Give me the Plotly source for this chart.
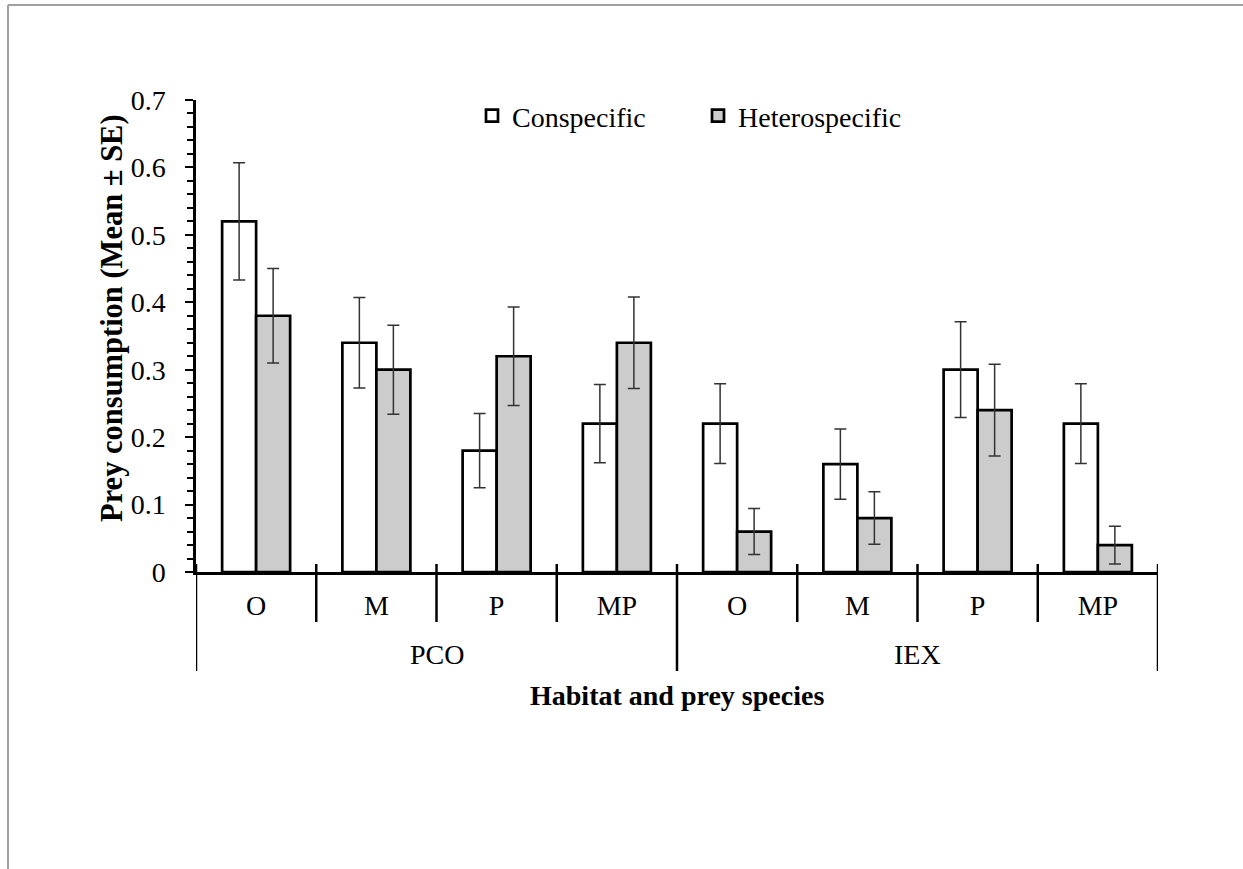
import plotly.graph_objects as go

# ---- data ----
habitats = ["PCO", "IEX"]
prey = ["O", "M", "P", "MP"]
series_names = ["Conspecific", "Heterospecific"]
conspecific = [0.52, 0.34, 0.18, 0.22, 0.22, 0.16, 0.30, 0.22]
conspecific_se = [0.087, 0.067, 0.055, 0.058, 0.059, 0.052, 0.071, 0.059]
heterospecific = [0.38, 0.30, 0.32, 0.34, 0.06, 0.08, 0.24, 0.04]
heterospecific_se = [0.070, 0.066, 0.073, 0.068, 0.034, 0.039, 0.068, 0.028]
y_ticks = [0, 0.1, 0.2, 0.3, 0.4, 0.5, 0.6, 0.7]

# ---- layout constants (pixels) ----
W, H = 1243, 869
L, R, T, B = 196, 85, 100, 297
PW, PH = W - L - R, H - T - B
FONT = "Liberation Serif, Times New Roman, serif"
FS = 28

def px_x(px):
    return (px - L) / PW

def px_y(py):
    return (H - B - py) / PH

labels = [p for _ in habitats for p in prey]
xpos = list(range(len(labels)))

fig = go.Figure()
fig.add_trace(go.Bar(
    name=series_names[0], x=xpos, y=conspecific,
    marker=dict(color="white", line=dict(color="black", width=2.7)),
    error_y=dict(type="data", array=conspecific_se, visible=True,
                 color="#333333", thickness=1.5, width=6),
))
fig.add_trace(go.Bar(
    name=series_names[1], x=xpos, y=heterospecific,
    marker=dict(color="#cccccc", line=dict(color="black", width=2.7)),
    error_y=dict(type="data", array=heterospecific_se, visible=True,
                 color="#333333", thickness=1.5, width=6),
))

shapes = []
# category boundary lines
n = len(labels)
for i in range(n + 1):
    xb = i - 0.5
    outer = (i % len(prey) == 0)
    shapes.append(dict(type="line", xref="x", yref="paper",
                       x0=xb, x1=xb, y0=px_y(564),
                       y1=px_y(671 if outer else 622),
                       line=dict(color="black", width=2.5)))
# page frame lines (gray)
shapes.append(dict(type="line", xref="paper", yref="paper",
                   x0=px_x(8), x1=px_x(1243), y0=px_y(5), y1=px_y(5),
                   line=dict(color="#a0a0a0", width=2)))
shapes.append(dict(type="line", xref="paper", yref="paper",
                   x0=px_x(8), x1=px_x(8), y0=px_y(5), y1=px_y(869),
                   line=dict(color="#a0a0a0", width=2)))

annotations = []
for gi, hname in enumerate(habitats):
    xc = gi * len(prey) + (len(prey) - 1) / 2
    annotations.append(dict(text=hname, x=xc, xref="x", y=px_y(654), yref="paper",
                            showarrow=False, xanchor="center", yanchor="middle",
                            font=dict(family=FONT, size=FS, color="black")))
annotations.append(dict(text="<b>Habitat and prey species</b>", x=0.5, xref="paper",
                        y=px_y(695), yref="paper", showarrow=False,
                        xanchor="center", yanchor="middle",
                        font=dict(family=FONT, size=FS, color="black")))
annotations.append(dict(text="<b>Prey consumption (Mean ± SE)</b>", x=px_x(112), xref="paper",
                        y=px_y(524), yref="paper", showarrow=False, textangle=-90,
                        xanchor="center", yanchor="bottom",
                        font=dict(family=FONT, size=30.5, color="black")))

fig.update_layout(
    width=W, height=H,
    margin=dict(l=L, r=R, t=T, b=B, autoexpand=False),
    paper_bgcolor="white", plot_bgcolor="white",
    barmode="group", bargap=0.4345, bargroupgap=0,
    font=dict(family=FONT, size=FS, color="black"),
    showlegend=True,
    legend=dict(orientation="h", x=px_x(472), xanchor="left", y=px_y(116), yanchor="middle",
                entrywidth=181, entrywidthmode="pixels",
                font=dict(family=FONT, size=FS, color="black"),
                bgcolor="rgba(0,0,0,0)", traceorder="normal"),
    xaxis=dict(range=[-0.5, n - 0.5], tickmode="array", tickvals=xpos, ticktext=labels,
               showline=True, linecolor="black", linewidth=2.5, ticks="",
               showgrid=False, zeroline=False, ticklabelstandoff=7,
               tickfont=dict(family=FONT, size=FS, color="black")),
    yaxis=dict(range=[0, 0.7], tickmode="array", tickvals=y_ticks,
               showline=True, linecolor="black", linewidth=2.5,
               ticks="outside", ticklen=8, tickwidth=2, tickcolor="black",
               minor=dict(ticks="outside", dtick=0.02, tick0=0, ticklen=6,
                          tickwidth=2, tickcolor="black"),
               showgrid=False, zeroline=False, ticklabelstandoff=14,
               tickfont=dict(family=FONT, size=FS, color="black")),
    yaxis2=dict(range=[0, 0.7], overlaying="y", side="left", anchor="x",
                tickmode="array", tickvals=y_ticks, showticklabels=False,
                ticks="inside", ticklen=7, tickwidth=2, tickcolor="black",
                showline=False, showgrid=False, zeroline=False),
    shapes=shapes, annotations=annotations,
)

fig.write_html("out.html", config={"displayModeBar": False},
               post_script="document.body.style.margin='0px';")
